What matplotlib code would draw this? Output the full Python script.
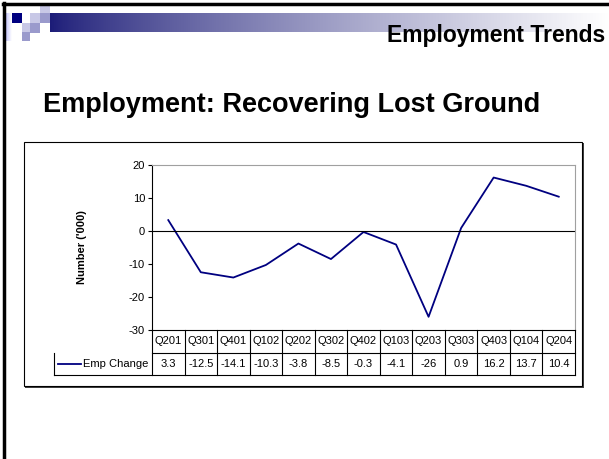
import numpy as np
import matplotlib
matplotlib.use('Agg')
import matplotlib.pyplot as plt
from matplotlib.patches import Rectangle

plt.rcParams['font.family'] = ['Liberation Sans', 'DejaVu Sans']

quarters = ['Q201', 'Q301', 'Q401', 'Q102', 'Q202', 'Q302', 'Q402',
            'Q103', 'Q203', 'Q303', 'Q403', 'Q104', 'Q204']
emp_change = [3.3, -12.5, -14.1, -10.3, -3.8, -8.5, -0.3,
              -4.1, -26, 0.9, 16.2, 13.7, 10.4]
value_labels = ['3.3', '-12.5', '-14.1', '-10.3', '-3.8', '-8.5', '-0.3',
                '-4.1', '-26', '0.9', '16.2', '13.7', '10.4']
yticks = [20, 10, 0, -10, -20, -30]

W, H = 609, 459
fig = plt.figure(figsize=(W / 100, H / 100), dpi=100)
navy = '#000080'


def box(x0, y0, x1, y1):
    # pixel box (top-left origin) -> figure fraction rect
    return [x0 / W, 1 - y1 / H, (x1 - x0) / W, (y1 - y0) / H]


# slide decoration layer
bg = fig.add_axes([0, 0, 1, 1])
bg.set_xlim(0, W)
bg.set_ylim(H, 0)
bg.axis('off')

grad = np.linspace(0, 1, 300) ** 0.8
start = np.array([0.11, 0.11, 0.47])
cols = start[None, :] + (1 - start[None, :]) * grad[:, None]
bg.imshow(cols[None, :, :], extent=[50, W, 32, 13], aspect='auto', zorder=1)
lg = np.linspace(0.75, 1.0, 20)
bg.imshow(np.stack([np.stack([lg, lg, 0.93 + 0.07 * lg], axis=1)]),
          extent=[5, 12, 41, 13], aspect='auto', zorder=1)

squares = [(12, 13, '#000080'), (30, 13, '#c8c8e6'), (40, 5, '#c8c8e6'),
           (40, 13, '#9a9acc'), (22, 23, '#c8c8e6'), (30, 23, '#9a9acc'),
           (22, 32, '#9a9acc')]
for sx, sy, c in squares:
    w = 10 if sx != 22 else 8
    h = 10 if sy != 5 else 8
    if sy == 32:
        h = 9
    bg.add_patch(Rectangle((sx, sy), w, h, facecolor=c, edgecolor='none', zorder=2))

bg.plot([3, W], [4, 4], color='black', lw=2.5, zorder=3)
bg.plot([4, 4], [3, H], color='black', lw=2.5, zorder=3)

bg.text(605, 42, 'Employment Trends', fontsize=16.5, fontweight='bold',
        ha='right', va='baseline', zorder=3)
bg.text(43, 112, 'Employment: Recovering Lost Ground', fontsize=19.5,
        fontweight='bold', ha='left', va='baseline', zorder=3)

# chart frame with shadow
bg.add_patch(Rectangle((25, 143), 559, 245, facecolor='#404040', edgecolor='none', zorder=3))
bg.add_patch(Rectangle((24, 142), 558, 244, facecolor='white', edgecolor='black',
                       lw=0.8, zorder=4))

# plot area
px0, px1, py0, py1 = 152, 575, 165, 330
ax = fig.add_axes(box(px0, py0, px1, py1))
ax.plot(range(len(emp_change)), emp_change, color=navy, lw=1.3)
ax.axhline(0, color='black', lw=0.8)
ax.set_xlim(-0.5, len(quarters) - 0.5)
ax.set_ylim(-30, 20)
ax.set_yticks(yticks)
ax.set_yticklabels([str(t) for t in yticks], fontsize=8)
ax.set_xticks([])
ax.tick_params(axis='y', length=3, width=0.8, pad=2)
ax.spines['top'].set_color('#a0a0a0')
ax.spines['right'].set_color('#a0a0a0')
ax.spines['left'].set_linewidth(0.8)
ax.spines['bottom'].set_linewidth(0.8)
ax.set_ylabel("Number ('000)", fontsize=8, fontweight='bold', labelpad=30)
ax.patch.set_alpha(0)

# data table under the plot
tx0, ty0, ty1 = 54, 330, 375
cell = (px1 - px0) / len(quarters)
tab = fig.add_axes(box(tx0, ty0, px1, ty1))
tab.set_xlim(-0.5 - (px0 - tx0) / cell, len(quarters) - 0.5)
tab.set_ylim(0, 2)
tab.axis('off')
n = len(quarters)
kw = dict(color='black', lw=0.8, clip_on=False)
tab.plot([-0.5, n - 0.5], [1, 1], **kw)
tab.plot([-0.5 - (px0 - tx0) / cell, n - 0.5], [0, 0], **kw)
tab.plot([-0.5 - (px0 - tx0) / cell] * 2, [0, 1], **kw)
for i in range(n + 1):
    tab.plot([i - 0.5, i - 0.5], [0, 2], **kw)
for i, (q, v) in enumerate(zip(quarters, value_labels)):
    tab.text(i, 1.5, q, fontsize=8, ha='center', va='center')
    tab.text(i, 0.5, v, fontsize=8, ha='center', va='center')
lx = -0.5 - (px0 - tx0) / cell
tab.plot([lx + 0.12, lx + 0.82], [0.5, 0.5], color=navy, lw=1.3)
tab.text(-0.6, 0.5, 'Emp Change', fontsize=8, ha='right', va='center')

fig.savefig('out.png', dpi=100)
